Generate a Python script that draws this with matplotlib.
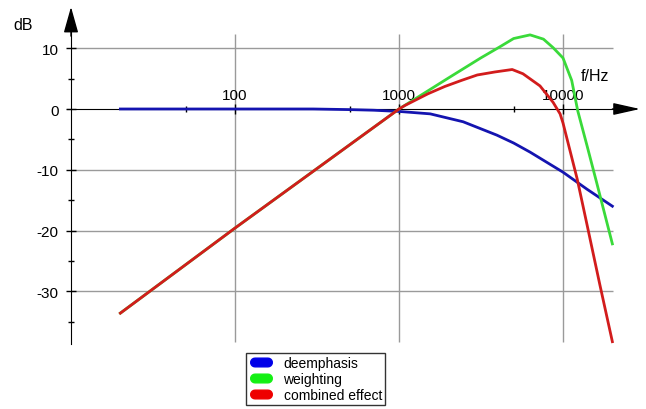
import matplotlib
matplotlib.use("Agg")
import matplotlib.pyplot as plt
import numpy as np
from matplotlib.path import Path
from matplotlib.lines import Line2D

plt.rcParams['font.family'] = ['Liberation Sans', 'DejaVu Sans']

# values (f in Hz, level in dB)
deemph_f = [20, 100, 300, 500, 700, 1000, 1550, 2460, 3950, 5000, 6300, 10000, 14000, 20000]
deemph_db = [0, 0, 0, -0.1, -0.2, -0.4, -0.8, -2.1, -4.3, -5.6, -7.1, -10.4, -13.2, -16.0]

weight_f = [20, 100, 1000, 2000, 3150, 4100, 5000, 6300, 7600, 8700, 10000,
            11300, 12300, 14000, 16000, 20000]
weight_db = [-33.6, -19.6, 0, 5.1, 8.4, 10.2, 11.6, 12.2, 11.5, 10.1, 8.4,
             4.7, -0.3, -6.0, -12.0, -22.2]

comb_f = [20, 100, 1000, 1090, 1500, 1900, 2400, 3000, 3850, 4900, 5700,
          7240, 8700, 9600, 10000, 12200, 14000, 16800, 20000]
comb_db = [-33.6, -19.6, 0, 0.6, 2.5, 3.7, 4.7, 5.6, 6.1, 6.5, 5.8,
           3.8, 1.1, -0.8, -2.3, -11.5, -19.0, -29.0, -38.3]

x_major = [100, 1000, 10000]
x_minor = [50, 500, 5000]
y_major = [10, 0, -10, -20, -30]
y_minor = [5, -5, -15, -25, -35]
y_grid = [10, -10, -20, -30]

fig = plt.figure(figsize=(6.46, 4.10), dpi=100)
ax = fig.add_axes([0, 0, 1, 1])
ax.set_xscale('log')
ax.set_xlim(10 ** (2 - 235 / 164), 10 ** (2 + 411 / 164))
ax.set_ylim((110 - 410) / 6.075, 110 / 6.075)
ax.patch.set_visible(False)

# grid
gray = '#9a9a9a'
ax.hlines(y_grid, 10, 20200, color=gray, lw=1, zorder=1)
ax.vlines(x_major, -38.4, 12.3, color=gray, lw=1, zorder=1)

# axes through (10 Hz, 0 dB)
for s in ['top', 'right']:
    ax.spines[s].set_visible(False)
ax.spines['left'].set_position(('data', 10))
ax.spines['bottom'].set_position(('data', 0))
ax.spines['left'].set_bounds(-38.7, 14)
ax.spines['bottom'].set_bounds(9.47, 25000)
ax.annotate('', xy=(10, 16.8), xytext=(10, 12),
            arrowprops=dict(arrowstyle='-|>,head_length=1.6,head_width=0.45',
                            mutation_scale=10, color='black', lw=1,
                            shrinkA=0, shrinkB=0))
ax.annotate('', xy=(29480, 0), xytext=(20000, 0),
            arrowprops=dict(arrowstyle='-|>,head_length=1.65,head_width=0.37',
                            mutation_scale=10, color='black', lw=1,
                            shrinkA=0, shrinkB=0))

ax.set_xticks(x_major)
ax.set_xticks(x_minor, minor=True)
ax.set_yticks(y_major)
ax.set_yticks(y_minor, minor=True)
ax.tick_params(axis='x', which='both', direction='inout', labelbottom=False)
ax.tick_params(axis='x', which='major', length=7, width=1)
ax.tick_params(axis='x', which='minor', length=5, width=1)
ax.tick_params(axis='y', which='major', direction='inout', length=7, width=1,
               pad=5.5, labelsize=11)
ax.tick_params(axis='y', which='minor', direction='inout', length=4, width=1)
ax.set_yticklabels([str(v) for v in y_major])

for f in x_major:
    ax.annotate(str(f), xy=(f, 0), xytext=(0, 7.5), textcoords='offset points',
                ha='center', va='baseline', fontsize=11)

ax.text(23 / 646, 1 - 25 / 410, 'dB', transform=fig.transFigure,
        ha='center', va='center', fontsize=11.5)
ax.text(595 / 646, 1 - 77 / 410, 'f/Hz', transform=fig.transFigure,
        ha='center', va='center', fontsize=11.5)

ax.plot(deemph_f, deemph_db, color='#1414b0', lw=2, zorder=3)
ax.plot(weight_f, weight_db, color='#3ada3a', lw=2, zorder=3)
ax.plot(comb_f, comb_db, color='#d21c1c', lw=2, zorder=4)

# rounded legend blobs
t = np.linspace(-np.pi / 2, np.pi / 2, 10)
verts = np.concatenate([
    np.column_stack([0.75 + 0.5 * np.cos(t), 0.5 * np.sin(t)]),
    np.column_stack([-0.75 - 0.5 * np.cos(t), -0.5 * np.sin(t)]),
])
verts = np.vstack([verts, verts[:1]])
blob = Path(verts, closed=True)

handles = [Line2D([], [], ls='none', marker=blob, markersize=15.5, color=c)
           for c in ['#0000e8', '#14f014', '#ee0000']]
labels = ['deemphasis', 'weighting', 'combined effect']
leg = fig.legend(handles, labels, loc='upper left',
                 bbox_to_anchor=(246 / 646, 1 - 354 / 410), borderaxespad=0,
                 fontsize=10, frameon=True, fancybox=False, edgecolor='black',
                 borderpad=0.2, labelspacing=0.15, handlelength=1.7,
                 handletextpad=0.8, numpoints=1)
leg.get_frame().set_linewidth(1)

fig.savefig('out.png', dpi=100)
